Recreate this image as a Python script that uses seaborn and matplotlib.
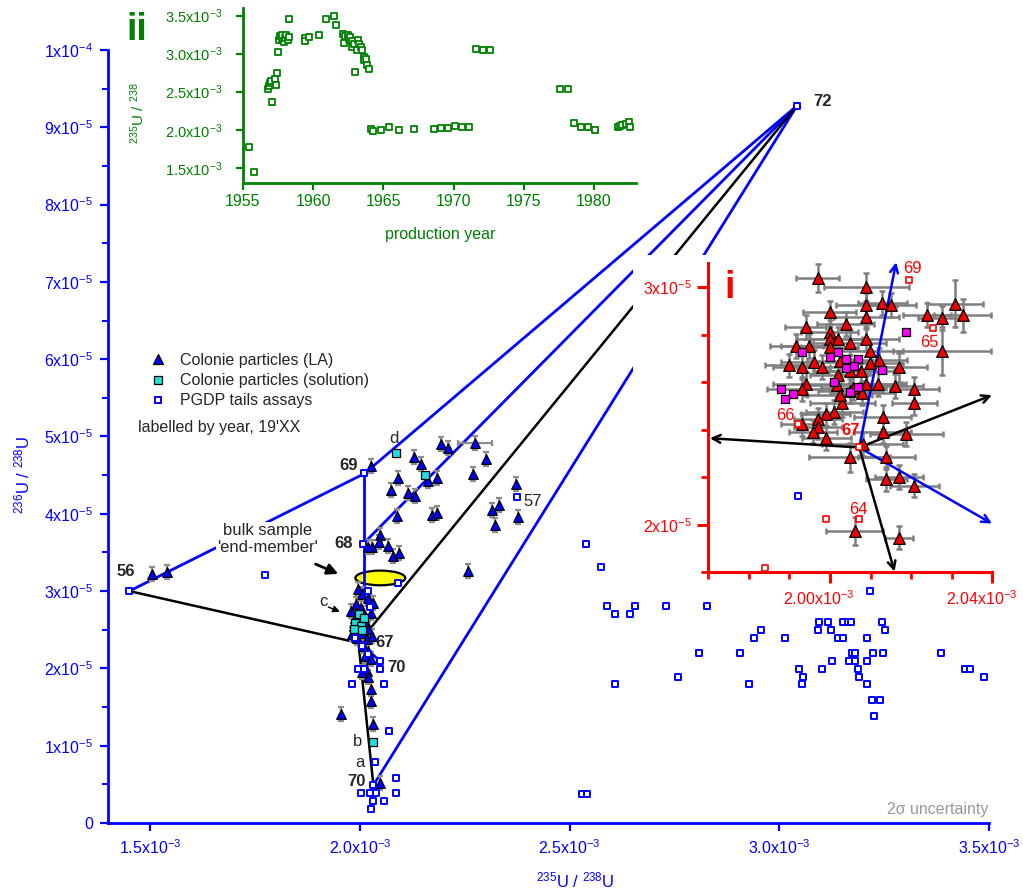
import numpy as np
import matplotlib
matplotlib.use('Agg')
import matplotlib.pyplot as plt
import seaborn as sns
from matplotlib.lines import Line2D
from matplotlib.patches import Ellipse, Rectangle
from matplotlib.ticker import FixedLocator, MultipleLocator, FuncFormatter
from matplotlib.transforms import ScaledTranslation

# --- Data: main panel (x in 1e-3, y in 1e-5) ---
la_x = [1.5056, 1.5398, 2.0257, 2.0912, 2.0736, 2.1283, 2.1469, 2.1156, 2.1313, 2.1625,
        2.1831, 2.1948, 2.2104, 2.2750, 2.3014, 2.2691, 2.0882, 2.1723, 2.1831, 2.0482,
        2.0462, 2.0296, 2.0198, 2.0677, 2.0785, 2.0931, 2.2583, 2.3160, 2.3317, 2.3219,
        2.3727, 2.3776,
        1.9953, 2.0051, 2.0208, 2.0325, 1.9915, 2.0022, 2.0257, 1.9895, 2.0129, 1.9856,
        2.0208, 2.0051, 1.9944, 2.0168, 2.0296, 2.0080, 2.0208, 2.0129, 2.0257, 2.0168,
        2.0208, 2.0257, 2.0276, 2.0325, 2.0472, 1.9563, 1.9788, 1.9973, 2.0080, 1.9827,
        2.0051]
la_y = [3.217, 3.247, 4.618, 4.459, 4.304, 4.735, 4.648, 4.269, 4.230, 4.420,
        4.459, 4.907, 4.847, 4.916, 4.713, 4.519, 3.975, 3.984, 4.006, 3.726,
        3.639, 3.570, 3.570, 3.579, 3.450, 3.493, 3.260, 4.053, 4.118, 3.855,
        4.386, 3.955,
        3.023, 2.959, 2.915, 2.850, 2.829, 2.785, 2.721, 2.656, 2.613, 2.549,
        2.506, 2.462, 2.397, 2.376, 2.419, 2.290, 2.225, 2.160, 2.118, 1.966,
        1.889, 1.730, 1.578, 1.277, 0.521, 1.414, 2.743, 2.607, 2.717, 2.445,
        1.957]
la_xerr_big = {13: 0.041}  # the one LA point with a visible x bar

sol_x = [2.0873, 2.1567, 1.9973, 2.0110, 1.9895, 2.0022, 1.9856, 2.0051, 2.0305]
sol_y = [4.783, 4.506, 2.700, 2.656, 2.591, 2.549, 2.506, 2.493, 1.048]

pgdp_x = [1.4508, 1.7735, 2.0110, 2.0080, 2.0902, 2.0188, 2.0247, 1.9895, 2.0051, 2.0198,
          2.0482, 2.0482, 1.9953, 2.0090, 1.9817, 2.0589, 2.0697, 2.0374, 2.0873, 2.0325,
          2.0032, 2.0237, 2.0394, 2.0873, 2.0325, 2.0570, 2.0276, 3.0424, 2.3737,
          2.5386, 2.5745, 2.5884, 2.6074, 2.6436, 2.6569, 2.7310, 2.8272, 2.8089, 2.7596,
          2.6091, 2.9075, 2.9282, 2.9396, 2.9560, 3.0127, 3.2159, 3.0951, 3.1173, 3.0920,
          3.1223, 3.1511, 3.1628, 3.1716, 3.2442, 3.2523, 3.1406, 3.1511, 3.2080, 3.1727,
          3.1809, 3.2235, 3.2476, 3.3850, 3.0475, 3.1018, 3.1246, 3.1659, 3.1814, 3.2085,
          3.1873, 3.0566, 3.1904, 3.0549, 3.2085, 3.2202, 3.2407, 3.2259, 3.4428, 3.4552,
          3.4874, 2.5286, 2.5410]
pgdp_y = [3.001, 3.208, 4.524, 3.613, 3.105, 3.001, 2.796, 2.397, 2.290, 2.190,
          2.096, 1.988, 1.988, 1.996, 1.794, 1.794, 1.186, 0.789, 0.578, 0.488,
          0.384, 0.384, 0.384, 0.384, 0.285, 0.285, 0.185, 9.276, 4.217,
          3.609, 3.308, 2.803, 2.700, 2.700, 2.803, 2.803, 2.803, 2.195, 1.893,
          1.794, 2.195, 1.794, 2.397, 2.501, 2.397, 3.005, 2.600, 2.600, 2.501,
          2.501, 2.600, 2.600, 2.600, 2.600, 2.501, 2.397, 2.397, 2.397, 2.195,
          2.195, 2.195, 2.195, 2.195, 1.996, 1.996, 2.096, 2.096, 2.096, 2.096,
          1.996, 1.893, 1.893, 1.794, 1.794, 1.587, 1.587, 1.388, 1.996, 1.996,
          1.893, 0.379, 0.379]

# named end-members (x 1e-3, y 1e-5)
p56 = (1.4508, 3.00)
p69 = (2.0110, 4.52)
p68 = (2.0080, 3.61)
p67 = (1.9970, 2.33)
p72 = (3.0424, 9.28)
p70a = (2.0482, 2.10)
p70b = (2.0325, 0.49)
p_bulk = (2.0110, 3.00)
bulk_ellipse = (2.0491, 3.17, 0.119, 0.19)  # centre x, centre y, width, height

year_labels = {'56': (1.4417, 3.249), '69': (1.9733, 4.63), '68': (1.9627, 3.61),
               '67': (2.0589, 2.34), '70a': (2.0863, 2.005), '70b': (1.9924, 0.543),
               '72': (3.1020, 9.33)}
letter_labels = {'d': (2.0825, 4.98), 'b': (1.9944, 1.06), 'a': (1.9993, 0.776),
                 'c': (1.9128, 2.866)}

# --- Data: inset ii (production year vs 235U/238U, 1e-3) ---
yr = [1955.4, 1955.8, 1956.8, 1956.85, 1956.9, 1957.0, 1957.1, 1957.25, 1957.35, 1957.45,
      1957.5, 1957.55, 1957.65, 1957.75, 1957.8, 1957.9, 1958.0, 1958.1, 1958.2, 1958.25,
      1958.3, 1959.4, 1959.45, 1959.7, 1960.4, 1960.9, 1961.5, 1961.6, 1962.1, 1962.2,
      1962.3, 1962.45, 1962.55, 1962.65, 1962.75, 1962.8, 1962.9, 1963.0, 1963.1, 1963.2,
      1963.3, 1963.4, 1963.5, 1963.6, 1963.65, 1963.75, 1963.85, 1963.95, 1964.1, 1964.25,
      1964.85, 1965.4, 1966.1, 1967.2, 1968.6, 1969.1, 1969.6, 1970.1, 1970.6, 1971.1,
      1971.6, 1972.1, 1972.6, 1977.6, 1978.15, 1978.6, 1979.1, 1979.6, 1980.1, 1981.7,
      1981.85, 1982.0, 1982.3, 1982.5, 1982.6]
ratio235 = [1.774, 1.446, 2.54, 2.58, 2.61, 2.645, 2.37, 2.66, 2.59, 2.74,
            3.02, 3.18, 3.23, 3.19, 3.25, 3.15, 3.21, 3.25, 3.18, 3.45,
            3.22, 3.20, 3.17, 3.22, 3.25, 3.46, 3.49, 3.38, 3.26, 3.14,
            3.23, 3.25, 3.19, 3.22, 3.09, 3.17, 3.13, 2.76, 3.05, 3.18,
            3.13, 3.09, 3.05, 2.96, 2.91, 2.93, 2.85, 2.80, 2.01, 1.98,
            2.00, 2.03, 1.99, 2.01, 2.01, 2.02, 2.02, 2.05, 2.04, 2.04,
            3.06, 3.05, 3.05, 2.53, 2.54, 2.09, 2.04, 2.03, 2.00, 2.04,
            2.05, 2.06, 2.08, 2.10, 2.03]

# --- Data: inset i (zoom on Colonie cluster; x 1e-3, y 1e-5) ---
zi_tri_x = [1.9970, 2.0089, 2.0089, 2.0129, 2.0151, 2.0089, 1.9999, 2.0308, 2.0239, 2.0276,
            2.0327, 2.0039, 1.9940, 1.9999, 1.9999, 2.0020, 2.0048, 2.0089, 1.9917, 1.9948,
            1.9999, 2.0099, 2.0276, 1.9899, 1.9930, 1.9960, 1.9979, 2.0024, 2.0099, 2.0120,
            2.0170, 2.0048, 2.0077, 2.0020, 1.9940, 1.9930, 2.0089, 2.0118, 2.0159, 2.0208,
            2.0016, 2.0057, 2.0080, 2.0030, 2.0208, 2.0011, 1.9989, 1.9970, 2.0130, 1.9930,
            1.9970, 1.9958, 1.9991, 2.0130, 2.0188, 2.0081, 2.0048, 2.0139, 2.0139, 2.0170,
            2.0208, 2.0061, 2.0170, 2.0050, 2.0024]
zi_tri_y = [3.037, 3.000, 2.923, 2.934, 2.923, 2.874, 2.893, 2.930, 2.881, 2.870,
            2.881, 2.843, 2.831, 2.812, 2.781, 2.781, 2.763, 2.781, 2.753, 2.753,
            2.749, 2.731, 2.731, 2.670, 2.662, 2.684, 2.662, 2.689, 2.680, 2.694,
            2.662, 2.648, 2.645, 2.628, 2.592, 2.572, 2.592, 2.592, 2.582, 2.572,
            2.586, 2.575, 2.554, 2.513, 2.513, 2.475, 2.464, 2.443, 2.453, 2.422,
            2.411, 2.392, 2.364, 2.392, 2.383, 2.341, 2.283, 2.283, 2.192, 2.202,
            2.165, 1.974, 1.946, 2.561, 2.545]
zi_tri_xerr = [0.0053, 0.0105, 0.0075, 0.006, 0.006, 0.008, 0.0065, 0.007, 0.006, 0.006,
               0.007, 0.007, 0.005, 0.007, 0.008, 0.007, 0.009, 0.008, 0.0065, 0.007,
               0.007, 0.008, 0.012, 0.006, 0.007, 0.008, 0.006, 0.008, 0.008, 0.007,
               0.007, 0.009, 0.008, 0.007, 0.008, 0.0085, 0.009, 0.007, 0.007, 0.006,
               0.008, 0.008, 0.008, 0.008, 0.0055, 0.007, 0.006, 0.006, 0.007, 0.005,
               0.006, 0.006, 0.006, 0.007, 0.009, 0.010, 0.010, 0.007, 0.005, 0.006,
               0.006, 0.007, 0.0035, 0.008, 0.008]
zi_tri_yerr = [0.06, 0.06, 0.05, 0.05, 0.05, 0.05, 0.05, 0.10, 0.05, 0.05,
               0.07, 0.05, 0.05, 0.05, 0.05, 0.05, 0.05, 0.05, 0.05, 0.05,
               0.05, 0.05, 0.10, 0.05, 0.05, 0.05, 0.05, 0.05, 0.05, 0.05,
               0.06, 0.05, 0.05, 0.05, 0.05, 0.05, 0.05, 0.05, 0.05, 0.05,
               0.05, 0.05, 0.05, 0.06, 0.05, 0.05, 0.05, 0.05, 0.05, 0.05,
               0.05, 0.05, 0.05, 0.05, 0.05, 0.05, 0.06, 0.05, 0.05, 0.05,
               0.05, 0.06, 0.05, 0.05, 0.05]
zi_sol_x = [1.9930, 2.0020, 1.9999, 2.0039, 2.0069, 2.0039, 2.0060, 2.0129, 2.0188,
            1.9880, 1.9909, 1.9890, 2.0009, 2.0048, 2.0069]
zi_sol_y = [2.728, 2.728, 2.707, 2.698, 2.698, 2.659, 2.668, 2.649, 2.809,
            2.570, 2.550, 2.531, 2.599, 2.559, 2.578]
zi_pgdp_x = [2.0194, 2.0253, 1.9920, 2.0072, 1.9991, 2.0072, 1.9839]
zi_pgdp_y = [3.030, 2.829, 2.422, 2.325, 2.023, 2.023, 1.819]
zi_other_x = [1.9921]
zi_other_y = [2.119]
zi_labels = {'69': (2.0202, 3.079), '65': (2.0245, 2.768), '66': (1.9891, 2.459),
             '67': (2.0051, 2.398), '64': (2.0071, 2.066)}
zi_origin = (2.0072, 2.325)
zi_black_tips = [(1.9704, 2.364), (2.0399, 2.545), (2.0159, 1.803)]
zi_blue_tips = [(2.0163, 3.104), (2.0399, 2.005)]

BLUE = '#0000ff'
GREEN = '#008000'
RED = '#ff0000'
GRAY = '#8c8c8c'

sns.set_style('ticks')
plt.rcParams['font.family'] = ['Liberation Sans', 'DejaVu Sans']
plt.rcParams['mathtext.fontset'] = 'custom'
plt.rcParams['mathtext.rm'] = 'Liberation Sans'
plt.rcParams['mathtext.it'] = 'Liberation Sans:italic'
plt.rcParams['mathtext.bf'] = 'Liberation Sans:bold'

fig = plt.figure(figsize=(10.23, 8.96), dpi=100)
e3 = 1e-3
e5 = 1e-5

# --- Main panel ---
ax = fig.add_axes([0.1056, 0.0815, 0.8612, 0.8627])


def seg(a, b, color, lw=2.0):
    ax.plot([a[0] * e3, b[0] * e3], [a[1] * e5, b[1] * e5], color=color, lw=lw,
            zorder=2, solid_capstyle='butt')


# outline lines between end-members
seg(p56, p69, BLUE)
seg(p69, p72, BLUE)
seg(p72, p68, BLUE)
seg(p69, p_bulk, BLUE)
seg(p72, p70b, BLUE)
seg(p67, p70a, BLUE)
seg(p56, p67, 'black', 1.8)
seg(p72, p67, 'black', 1.8)
seg(p67, p70b, 'black', 1.8)

ax.add_patch(Ellipse((bulk_ellipse[0] * e3, bulk_ellipse[1] * e5), bulk_ellipse[2] * e3,
                     bulk_ellipse[3] * e5, facecolor='#ffff00', edgecolor='black',
                     lw=1.6, zorder=1.5))

la_xa = np.array(la_x) * e3
la_ya = np.array(la_y) * e5
ax.errorbar(la_xa, la_ya, yerr=0.09 * e5, fmt='none', ecolor=GRAY, elinewidth=1.6,
            capsize=2.5, capthick=1.6, zorder=3)
for i, xe in la_xerr_big.items():
    ax.errorbar(la_xa[i], la_ya[i], xerr=xe * e3, fmt='none', ecolor=GRAY, elinewidth=1.6,
                capsize=2.5, capthick=1.6, zorder=3)

sns.scatterplot(x=la_xa, y=la_ya, marker='^', s=48, color=BLUE, edgecolor='black',
                linewidth=0.9, ax=ax, zorder=4, legend=False)
sns.scatterplot(x=np.array(sol_x) * e3, y=np.array(sol_y) * e5, marker='s', s=30,
                color='#22dede', edgecolor='black', linewidth=0.9, ax=ax, zorder=5, legend=False)
sns.scatterplot(x=np.array(pgdp_x) * e3, y=np.array(pgdp_y) * e5, marker='s', s=24,
                color='white', edgecolor=BLUE, linewidth=1.4, ax=ax, zorder=6, legend=False)

ax.set_xlim(1.4e-3, 3.5e-3)
ax.set_ylim(0, 1e-4)
sns.despine(ax=ax)
for sp in ['left', 'bottom']:
    ax.spines[sp].set_color(BLUE)
    ax.spines[sp].set_linewidth(2)
ax.xaxis.set_major_locator(FixedLocator([1.5e-3, 2.0e-3, 2.5e-3, 3.0e-3, 3.5e-3]))
ax.yaxis.set_major_locator(MultipleLocator(1e-5))
ax.yaxis.set_minor_locator(MultipleLocator(5e-6))
ax.xaxis.set_major_formatter(FuncFormatter(lambda v, p: f'{v * 1e3:.1f}x10$^{{-3}}$'))


def yfmt(v, p):
    n = int(round(v * 1e5))
    if n == 0:
        return '0'
    if n == 10:
        return '1x10$^{-4}$'
    return f'{n}x10$^{{-5}}$'


ax.yaxis.set_major_formatter(FuncFormatter(yfmt))
ax.tick_params(which='major', direction='out', length=6, width=1.6, color=BLUE,
               labelcolor=BLUE, labelsize=11.5, pad=5)
ax.tick_params(which='minor', direction='out', length=4, width=1.4, color=BLUE)
ax.set_xlabel(r'$^{235}$U / $^{238}$U', color=BLUE, fontsize=12)
ax.xaxis.set_label_coords(0.530, -0.062)
ax.set_ylabel(r'$^{236}$U / $^{238}$U', color=BLUE, fontsize=12)
ax.yaxis.set_label_coords(-0.086, 0.45)

for key, (lx, ly) in year_labels.items():
    ax.text(lx * e3, ly * e5, key[:2], fontsize=12, fontweight='bold', ha='center',
            va='center', zorder=7)
ax.text(2.4112e-3, 4.159e-5, '57', fontsize=12, ha='center', va='center', zorder=7)
for t, (lx, ly) in letter_labels.items():
    ax.text(lx * e3, ly * e5, t, fontsize=12, ha='center', va='center', zorder=7)

ax.text(1.780e-3, 3.674e-5, "bulk sample\n'end-member'", fontsize=12, ha='center',
        va='center', linespacing=1.15, zorder=3,
        bbox=dict(facecolor='white', edgecolor='none', pad=1))
ax.annotate('', xy=(1.9549e-3, 3.208e-5), xytext=(1.8885e-3, 3.364e-5),
            arrowprops=dict(arrowstyle='-|>', color='black', lw=2, mutation_scale=16), zorder=7)
ax.annotate('', xy=(1.9588e-3, 2.72e-5), xytext=(1.9190e-3, 2.807e-5),
            arrowprops=dict(arrowstyle='-|>', color='black', lw=1, mutation_scale=10), zorder=7)

ax.text(0.999, 0.008, '2σ uncertainty', transform=ax.transAxes, fontsize=11.5,
        color='#999999', ha='right', va='bottom')

handles = [
    Line2D([], [], ls='none', marker='^', ms=7, mfc=BLUE, mec='black', mew=0.9),
    Line2D([], [], ls='none', marker='s', ms=5.5, mfc='#22dede', mec='black', mew=0.9),
    Line2D([], [], ls='none', marker='s', ms=5, mfc='white', mec=BLUE, mew=1.4),
]
ax.legend(handles, ['Colonie particles (LA)', 'Colonie particles (solution)',
                    'PGDP tails assays'],
          loc='upper left', bbox_to_anchor=(150 / 1023, 1 - 353 / 896),
          bbox_transform=fig.transFigure, frameon=False, fontsize=11.5, borderpad=0,
          handlelength=1.0, handletextpad=0.9, labelspacing=0.32, borderaxespad=0)
fig.text(138 / 1023, 1 - 427 / 896, "labelled by year, 19'XX", fontsize=11.5,
         ha='left', va='center')

# white backdrop behind inset i
ax.add_artist(Rectangle((633 / 1023, 1 - 578 / 896), (1000 - 633) / 1023, (578 - 255) / 896,
                        transform=fig.transFigure, facecolor='white', edgecolor='none',
                        zorder=10, clip_on=False))

# --- Inset ii: ratio vs production year ---
ax2 = fig.add_axes([0.2375, 0.7958, 0.3842, 0.1953])
ax2.set_facecolor('white')
sns.scatterplot(x=yr, y=np.array(ratio235) * e3, marker='s', s=18, color='white',
                edgecolor=GREEN, linewidth=1.3, ax=ax2, legend=False, zorder=3, clip_on=False)
ax2.set_xlim(1955, 1983)
ax2.set_ylim(1.3e-3, 3.6e-3)
sns.despine(ax=ax2)
for sp in ['left', 'bottom']:
    ax2.spines[sp].set_color(GREEN)
    ax2.spines[sp].set_linewidth(2)
ax2.xaxis.set_major_locator(MultipleLocator(5))
ax2.yaxis.set_major_locator(FixedLocator([1.5e-3, 2.0e-3, 2.5e-3, 3.0e-3, 3.5e-3]))
ax2.yaxis.set_major_formatter(FuncFormatter(lambda v, p: f'{v * 1e3:.1f}x10$^{{-3}}$'))
ax2.tick_params(axis='x', direction='out', length=5, width=1.6, color=GREEN,
                labelcolor=GREEN, labelsize=11.5, pad=3)
ax2.tick_params(axis='y', direction='out', length=5, width=1.6, color=GREEN,
                labelcolor=GREEN, labelsize=10.5, pad=10)
ax2.set_xlabel('production year', color=GREEN, fontsize=11.5)
ax2.xaxis.set_label_coords(0.501, -0.25)
ax2.set_ylabel(r'$^{235}$U / $^{238}$', color=GREEN, fontsize=11)
ax2.yaxis.set_label_coords(-0.245, 0.40)
fig.text(137 / 1023, 1 - 30 / 896, 'ii', fontsize=27, fontweight='bold', color=GREEN,
         ha='center', va='center')

# --- Inset i: zoom on the cluster ---
ax3 = fig.add_axes([0.6924, 0.3613, 0.2776, 0.3449])
ax3.set_facecolor('white')
ax3.errorbar(np.array(zi_tri_x) * e3, np.array(zi_tri_y) * e5,
             xerr=np.array(zi_tri_xerr) * e3, yerr=np.array(zi_tri_yerr) * e5,
             fmt='none', ecolor='#7f7f7f', elinewidth=1.8, capsize=2.5, capthick=1.8, zorder=2)
for tips, col in [(zi_black_tips, 'black'), (zi_blue_tips, BLUE)]:
    for tip in tips:
        ax3.annotate('', xy=(tip[0] * e3, tip[1] * e5),
                     xytext=(zi_origin[0] * e3, zi_origin[1] * e5),
                     arrowprops=dict(arrowstyle='->', color=col, lw=1.8, mutation_scale=14,
                                     shrinkA=0, shrinkB=0),
                     annotation_clip=False, zorder=3)
sns.scatterplot(x=np.array(zi_tri_x) * e3, y=np.array(zi_tri_y) * e5, marker='^', s=70,
                color='#ee0000', edgecolor='black', linewidth=0.9, ax=ax3, zorder=4, legend=False)
sns.scatterplot(x=np.array(zi_sol_x) * e3, y=np.array(zi_sol_y) * e5, marker='s', s=30,
                color='#ff00ff', edgecolor='black', linewidth=0.9, ax=ax3, zorder=5, legend=False)
sns.scatterplot(x=np.array(zi_pgdp_x) * e3, y=np.array(zi_pgdp_y) * e5, marker='s', s=24,
                color='white', edgecolor=RED, linewidth=1.2, ax=ax3, zorder=6, legend=False,
                clip_on=False)
sns.scatterplot(x=np.array(zi_other_x) * e3, y=np.array(zi_other_y) * e5, marker='s', s=24,
                color='white', edgecolor=BLUE, linewidth=1.4, ax=ax3, zorder=6, legend=False)
for t, (lx, ly) in zi_labels.items():
    ax3.text(lx * e3, ly * e5, t, fontsize=12, color=RED, ha='center', va='center',
             fontweight='bold' if t == '67' else 'normal', zorder=7)
ax3.text(0.075, 0.92, 'i', transform=ax3.transAxes, fontsize=27, fontweight='bold',
         color=RED, ha='center', va='center')
ax3.set_xlim(1.97e-3, 2.04e-3)
ax3.set_ylim(1.8e-5, 3.1e-5)
sns.despine(ax=ax3)
for sp in ['left', 'bottom']:
    ax3.spines[sp].set_color(RED)
    ax3.spines[sp].set_linewidth(2.2)
ax3.xaxis.set_major_locator(FixedLocator([2.00e-3, 2.04e-3]))
ax3.xaxis.set_minor_locator(MultipleLocator(1e-5))
ax3.yaxis.set_major_locator(FixedLocator([2e-5, 3e-5]))
ax3.yaxis.set_minor_locator(MultipleLocator(2e-6))
ax3.xaxis.set_major_formatter(FuncFormatter(lambda v, p: f'{v * 1e3:.2f}x10$^{{-3}}$'))
ax3.yaxis.set_major_formatter(FuncFormatter(lambda v, p: f'{int(round(v * 1e5))}x10$^{{-5}}$'))
ax3.tick_params(which='major', direction='out', length=8, width=2.2, color=RED,
                labelcolor=RED, labelsize=11.5, pad=4)
ax3.tick_params(which='minor', direction='out', length=5, width=2, color=RED)
ax3.set_xlabel('')
ax3.set_ylabel('')
shift = ScaledTranslation(-11 / 100, 0, fig.dpi_scale_trans)
for lab in ax3.get_xticklabels():
    lab.set_transform(lab.get_transform() + shift)

fig.savefig('out.png', dpi=100)
